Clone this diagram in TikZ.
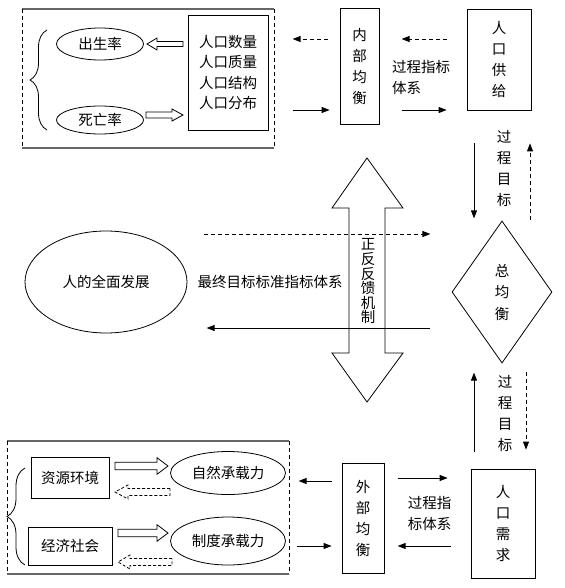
\documentclass[tikz,border=0pt]{standalone}
\usepackage{fontspec}
\setmainfont{Noto Sans CJK SC}
\usetikzlibrary{shapes,arrows.meta,decorations.pathreplacing}

% hollow arrow: [options]{tail x}{head base x}{tip x}{y}{shaft half}{head half}
\newcommand{\hollowarrow}[7][]{%
  \draw[#1] (#2,#5-#6) -- (#3,#5-#6) -- (#3,#5-#7) -- (#4,#5)
    -- (#3,#5+#7) -- (#3,#5+#6) -- (#2,#5+#6) -- cycle;}

\begin{document}
\begin{tikzpicture}[x=1pt, y=-1pt, line width=0.8pt]
  \tikzstyle{block} = [rectangle, draw, inner sep=0pt, align=center,
    font=\fontsize{14.5}{21}\selectfont]
  \tikzstyle{oval} = [ellipse, draw, inner sep=0pt,
    font=\fontsize{14.5}{17}\selectfont]
  \tikzstyle{label} = [inner sep=0pt, font=\fontsize{14.5}{21}\selectfont]
  \tikzstyle{line} = [draw, -{Triangle[length=8pt,width=6pt]}]
  \tikzstyle{dline} = [line, dash pattern=on 4pt off 3pt]
  \tikzstyle{frame} = [draw, black!60, line width=1.2pt]
  \tikzstyle{side} = [draw, dash pattern=on 4pt off 3pt]
  \tikzstyle{curly} = [draw, decorate, decoration={brace, amplitude=17pt}]

  \useasboundingbox (0,0) rectangle (564,588);

  % Place nodes
  \node [block, minimum width=80pt, minimum height=115pt,
    font=\fontsize{14.5}{20.3}\selectfont] (pop) at (228,72.5)
    {人口数量\\人口质量\\人口结构\\人口分布};
  \node [oval, minimum width=87pt, minimum height=32pt] (birth) at (100,44) {出生率};
  \node [oval, minimum width=87pt, minimum height=28pt] (death) at (100,120) {死亡率};
  \node [block, minimum width=39pt, minimum height=116pt] (inner) at (359.5,66)
    {内\\部\\均\\衡};
  \node [block, minimum width=64pt, minimum height=101pt] (supply) at (499,59.5)
    {人\\口\\供\\给};
  \node [label, align=left] (supplylbl) at (421,77) {过程指标\\体系};
  \node [label, align=center] (goalup) at (504,169) {过\\程\\目\\标};

  \node [oval, minimum width=162pt, minimum height=102pt] (goal) at (106,282)
    {人的全面发展};
  \node [label] (stdlbl) at (270,282) {最终目标标准指标体系};
  \node [diamond, draw, inner sep=0pt, aspect=0.7, minimum width=100pt,
    minimum height=142pt, align=center, font=\fontsize{14.5}{21.5}\selectfont]
    (total) at (502,292) {总\\均\\衡};
  \node [label, align=center, font=\fontsize{14.5}{14.6}\selectfont] (feedback)
    at (368,281.5) {正\\反\\反\\馈\\机\\制};
  \node [label, align=center] (goaldown) at (505,413.5) {过\\程\\目\\标};

  \node [block, minimum width=78pt, minimum height=41pt] (res) at (70,477.5) {资源环境};
  \node [block, minimum width=84pt, minimum height=38pt] (econ) at (70,546) {经济社会};
  \node [oval, minimum width=115pt, minimum height=43pt] (nature) at (228,473) {自然承载力};
  \node [oval, minimum width=115pt, minimum height=48pt] (inst) at (228,541) {制度承载力};
  \node [block, minimum width=42pt, minimum height=110pt] (outer) at (363,518)
    {外\\部\\均\\衡};
  \node [block, minimum width=64pt, minimum height=109pt] (demand) at (503,523.5)
    {人\\口\\需\\求};
  \node [label, align=left] (demandlbl) at (429.5,513) {过程指\\标体系};

  % Frames and braces
  \path [frame] (22,9) -- (274,9);
  \path [frame] (22,148) -- (274,148);
  \path [side] (22,9) -- (22,148);
  \path [side] (274,9) -- (274,148);
  \path [curly] (47,130) -- (47,30);

  \path [frame] (7,441) -- (289,441);
  \path [frame] (7,574) -- (289,574);
  \path [side] (7,441) -- (7,574);
  \path [side] (289,441) -- (289,574);
  \path [curly, decoration={amplitude=18pt}] (25,565) -- (25,468);

  % Hollow arrows
  \hollowarrow{183}{157}{147}{44}{2.5}{6}
  \hollowarrow{146}{172}{183}{115}{3}{6}
  \hollowarrow{115}{157}{168}{466}{3.8}{8.3}
  \hollowarrow[dash pattern=on 3pt off 2pt]{170}{128}{115}{492}{3.5}{7}
  \hollowarrow{118}{157}{168}{533}{3.8}{8.3}
  \hollowarrow[dash pattern=on 3pt off 2pt]{172}{130}{118}{562}{3.5}{7}

  % Double arrow
  \draw (367,158) -- (403,208) -- (385,208) -- (385,353) -- (403,353)
    -- (367,402) -- (332,353) -- (349,353) -- (349,208) -- (332,208) -- cycle;

  % Draw edges
  \path [dline] (inner.west) ++(-12,-27) -- ++(-35,0);
  \path [line] (inner.west) ++(-47,44) -- ++(37,0);
  \path [dline] (supply.west) ++(-20,-20.5) -- ++(-45,0);
  \path [line] (supply.west) ++(-65,50.5) -- ++(45,0);

  \path [line] (supply.south) ++(-25,33) -- ++(0,75);
  \path [dline] (supply.south) ++(31,110) -- ++(0,-77);
  \path [line] (demand.north) ++(-29,-17) -- ++(0,-79);
  \path [dline] (demand.north) ++(23,-97) -- ++(0,78);

  \path [dline] (goal.east) ++(17,-48) -- ++(226,0);
  \path [line] (total.west) ++(-22,36) -- ++(-223,0);

  \path [line] (outer.west) ++(-10,-37) -- ++(-33,0);
  \path [line] (outer.west) ++(-45,28) -- ++(35,0);
  \path [line] (demand.west) ++(-73,-45.5) -- ++(50,0);
  \path [line] (demand.west) ++(-20,22.5) -- ++(-53,0);
\end{tikzpicture}
\end{document}
